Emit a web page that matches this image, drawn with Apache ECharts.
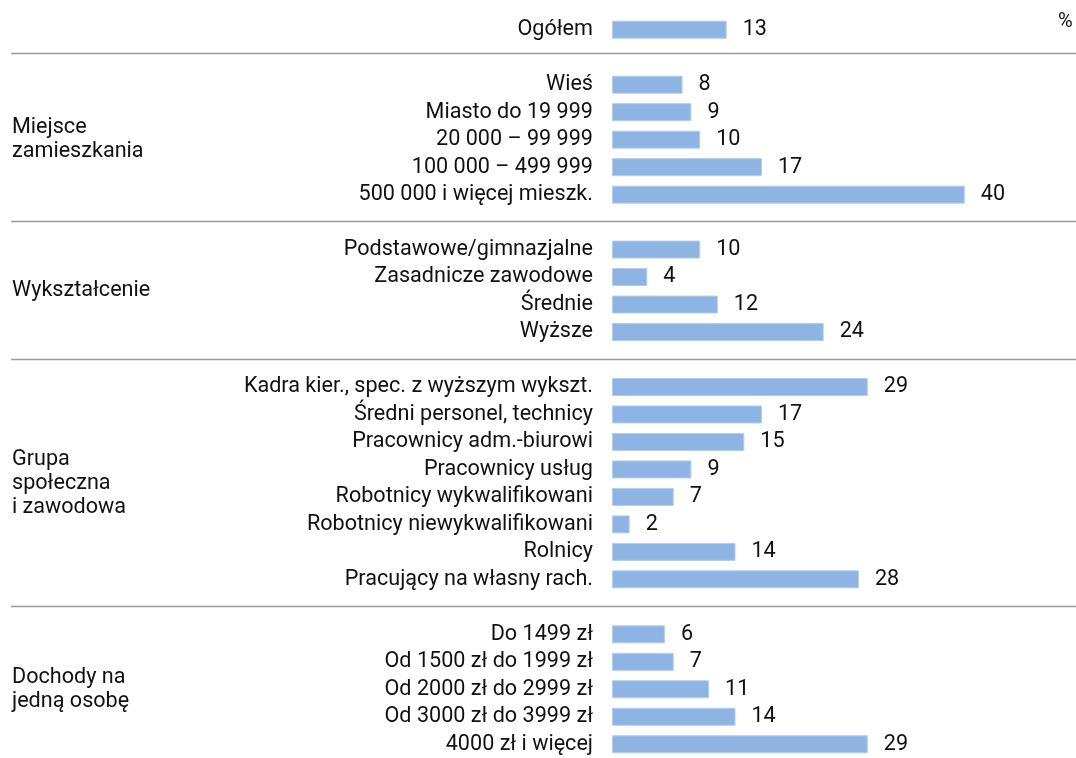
<!DOCTYPE html>
<html>
<head>
<meta charset="utf-8">
<script src="https://cdn.jsdelivr.net/npm/echarts@6/dist/echarts.min.js"></script>
<style>
  html, body { margin: 0; padding: 0; background: #fff; }
  #chart_main { width: 1076px; height: 758px; }
</style>
</head>
<body>
<div id="chart_main"></div>
<script type="text/javascript">
// rows top to bottom; blank rows are the gaps where the separators sit
var categories = [
  'Ogółem', '',
  'Wieś', 'Miasto do 19 999', '20 000 – 99 999', '100 000 – 499 999', '500 000 i więcej mieszk.', ' ',
  'Podstawowe/gimnazjalne', 'Zasadnicze zawodowe', 'Średnie', 'Wyższe', '  ',
  'Kadra kier., spec. z wyższym wykszt.', 'Średni personel, technicy', 'Pracownicy adm.-biurowi',
  'Pracownicy usług', 'Robotnicy wykwalifikowani', 'Robotnicy niewykwalifikowani', 'Rolnicy',
  'Pracujący na własny rach.', '   ',
  'Do 1499 zł', 'Od 1500 zł do 1999 zł', 'Od 2000 zł do 2999 zł', 'Od 3000 zł do 3999 zł', '4000 zł i więcej'
];
var values = [
  13, '-',
  8, 9, 10, 17, 40, '-',
  10, 4, 12, 24, '-',
  29, 17, 15, 9, 7, 2, 14, 28, '-',
  6, 7, 11, 14, 29
];
var separatorRows = [1, 7, 12, 21];
var groupTitles = ['Miejsce\nzamieszkania', 'Wykształcenie', 'Grupa\nspołeczna\ni zawodowa', 'Dochody na\njedną osobę'];
var groupRows = [[2, 6], [8, 11], [13, 20], [22, 26]];

var myChart = echarts.init(document.getElementById('chart_main'));
var font = 'Roboto, "Noto Sans", sans-serif';

var option = {
    animation: false,
    grid: { left: 612, width: 441, top: 16, height: 748.5 },
    xAxis: { type: 'value', min: 0, max: 50, show: false },
    yAxis: {
        type: 'category', data: categories, inverse: true,
        axisLine: { show: false }, axisTick: { show: false },
        axisLabel: { interval: 0, margin: 19, color: '#111', fontSize: 21.6, fontFamily: font }
    },
    series: [{
        type: 'bar', data: values, barWidth: 18,
        itemStyle: { color: '#8eb4e3', borderColor: '#b3cdee', borderWidth: 1 },
        label: { show: true, position: 'right', distance: 16, color: '#111', fontSize: 21.6, fontFamily: font }
    }]
};
myChart.setOption(option);

// separators and group titles, placed through the axis scale
var gr = [];
separatorRows.forEach(function (r, i) {
    var y = Math.round(myChart.convertToPixel({ yAxisIndex: 0 }, r) - (i === 0 ? 3 : 0)) - 0.5;
    gr.push({ type: 'line', shape: { x1: 11, y1: y, x2: 1076, y2: y },
              style: { stroke: '#9a9a9a', lineWidth: 1.5 } });
});
groupTitles.forEach(function (t, i) {
    var y0 = myChart.convertToPixel({ yAxisIndex: 0 }, groupRows[i][0]);
    var y1 = myChart.convertToPixel({ yAxisIndex: 0 }, groupRows[i][1]);
    gr.push({ type: 'text', left: 12, top: (y0 + y1) / 2 - t.split('\n').length * 12,
              style: { text: t, fill: '#111', fontSize: 21.6, fontFamily: font, lineHeight: 24 } });
});
gr.push({ type: 'text', left: 1058, top: 12,
          style: { text: '%', fill: '#111', fontSize: 20, fontFamily: font } });
myChart.setOption({ graphic: gr });
</script>
</body>
</html>
